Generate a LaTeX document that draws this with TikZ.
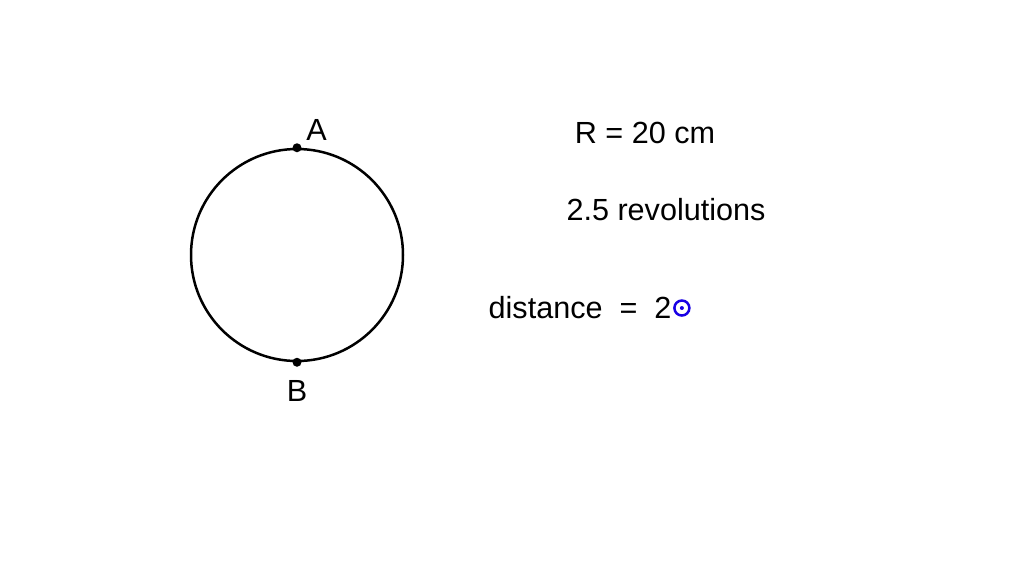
\documentclass[tikz,border=0pt]{standalone}
\usepackage{fontspec}
\setmainfont{Liberation Sans}
\usetikzlibrary{positioning}
\begin{document}
\begin{tikzpicture}
	\tikzstyle{note}=[inner sep=0pt, font=\fontsize{8.7}{10}\selectfont]
	\tikzstyle{dot}=[circle, fill=black, inner sep=0pt, minimum size=0.9mm]
	\useasboundingbox (0,0) rectangle (10.24,5.76);
	% Wheel
	\node at (2.97, 3.21) [circle, draw=black, line width=0.25mm, minimum size=2.12cm, inner sep=0pt] (wheel) {};
	\node at (wheel.north) [dot] (ptA) {};
	\node at (wheel.south) [dot] (ptB) {};
	\node [note, above right=0.03cm and 0.05cm of ptA] (labA) {A};
	\node [note, below=0.12cm of ptB] (labB) {B};
	%---------------------%
	% Given values
	\node at (6.45, 4.43) [note] (radius) {R = 20 cm};
	\node at (6.66, 3.66) [note] (turns) {2.5 revolutions};
	\node at (4.88, 2.68) [note, anchor=west] (dist) {distance \ = \ 2};
	\node [circle, draw=blue!80!violet, line width=0.25mm, minimum size=1.5mm, inner sep=0pt, right=0.01cm of dist] (cursor) {};
	\node at (cursor.center) [circle, fill=blue!80!violet, inner sep=0pt, minimum size=0.4mm] (tip) {};
	%---------------------%
\end{tikzpicture}
\end{document}
